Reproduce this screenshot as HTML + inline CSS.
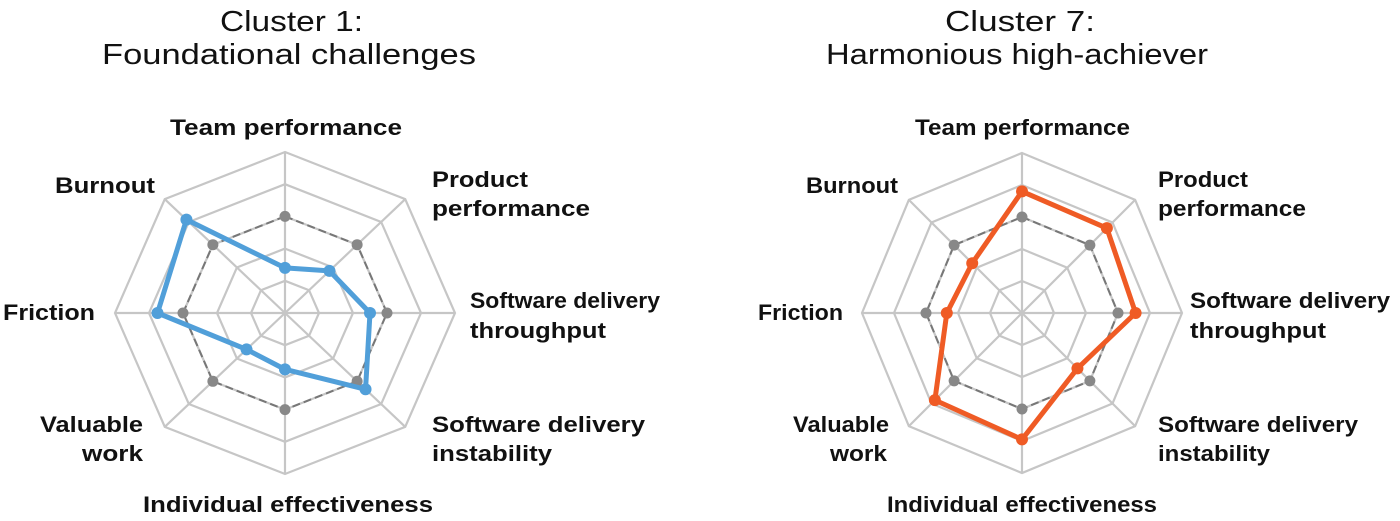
<!DOCTYPE html>
<html><head><meta charset="utf-8"><style>
html,body{margin:0;padding:0;background:#fff;}
svg{display:block;}
text{font-family:"Liberation Sans",sans-serif;fill:#111;}
.t{font-size:29px;}
.l{font-size:22px;font-weight:bold;}
</style></head><body>
<svg id="s" width="1400" height="521" viewBox="0 0 1400 521" xmlns="http://www.w3.org/2000/svg">
<g id="g"></g>
<text class="t" x="220" y="31" textLength="143" lengthAdjust="spacingAndGlyphs">Cluster 1:</text>
<text class="t" x="102" y="64" textLength="374" lengthAdjust="spacingAndGlyphs">Foundational challenges</text>
<text class="t" x="945" y="31" textLength="150" lengthAdjust="spacingAndGlyphs">Cluster 7:</text>
<text class="t" x="826" y="64" textLength="382" lengthAdjust="spacingAndGlyphs">Harmonious high-achiever</text>

<text class="l" x="170" y="135" textLength="232" lengthAdjust="spacingAndGlyphs">Team performance</text>
<text class="l" x="55" y="193" textLength="100" lengthAdjust="spacingAndGlyphs">Burnout</text>
<text class="l" x="432" y="187" textLength="96" lengthAdjust="spacingAndGlyphs">Product</text>
<text class="l" x="432" y="216" textLength="158" lengthAdjust="spacingAndGlyphs">performance</text>
<text class="l" x="470" y="308" textLength="190" lengthAdjust="spacingAndGlyphs">Software delivery</text>
<text class="l" x="470" y="338" textLength="136" lengthAdjust="spacingAndGlyphs">throughput</text>
<text class="l" x="3" y="320" textLength="92" lengthAdjust="spacingAndGlyphs">Friction</text>
<text class="l" x="40" y="432" textLength="103" lengthAdjust="spacingAndGlyphs">Valuable</text>
<text class="l" x="82" y="461" textLength="61" lengthAdjust="spacingAndGlyphs">work</text>
<text class="l" x="432" y="432" textLength="213" lengthAdjust="spacingAndGlyphs">Software delivery</text>
<text class="l" x="432" y="461" textLength="120" lengthAdjust="spacingAndGlyphs">instability</text>
<text class="l" x="143" y="512" textLength="290" lengthAdjust="spacingAndGlyphs">Individual effectiveness</text>

<text class="l" x="915" y="135" textLength="215" lengthAdjust="spacingAndGlyphs">Team performance</text>
<text class="l" x="806" y="193" textLength="92" lengthAdjust="spacingAndGlyphs">Burnout</text>
<text class="l" x="1158" y="187" textLength="90" lengthAdjust="spacingAndGlyphs">Product</text>
<text class="l" x="1158" y="216" textLength="148" lengthAdjust="spacingAndGlyphs">performance</text>
<text class="l" x="1190" y="308" textLength="200" lengthAdjust="spacingAndGlyphs">Software delivery</text>
<text class="l" x="1190" y="338" textLength="136" lengthAdjust="spacingAndGlyphs">throughput</text>
<text class="l" x="758" y="320" textLength="85" lengthAdjust="spacingAndGlyphs">Friction</text>
<text class="l" x="793" y="432" textLength="96" lengthAdjust="spacingAndGlyphs">Valuable</text>
<text class="l" x="830" y="461" textLength="57" lengthAdjust="spacingAndGlyphs">work</text>
<text class="l" x="1158" y="432" textLength="200" lengthAdjust="spacingAndGlyphs">Software delivery</text>
<text class="l" x="1158" y="461" textLength="112" lengthAdjust="spacingAndGlyphs">instability</text>
<text class="l" x="887" y="512" textLength="270" lengthAdjust="spacingAndGlyphs">Individual effectiveness</text>
</svg>
<script>
(function(){
var NS="http://www.w3.org/2000/svg",g=document.getElementById("g");
function el(n,a){var e=document.createElementNS(NS,n);for(var k in a)e.setAttribute(k,a[k]);g.appendChild(e);return e;}
function pt(cx,cy,rx,ry,i,v){var a=-Math.PI/2+i*Math.PI/4;return [cx+Math.cos(a)*rx*v,cy+Math.sin(a)*ry*v];}
function chart(cx,cy,rx,ry,vals,col){
  for(var r=1;r<=5;r++){var p=[];for(var i=0;i<8;i++)p.push(pt(cx,cy,rx,ry,i,r/5).join(","));
    el("polygon",{points:p.join(" "),fill:"none",stroke:"#c6c6c6","stroke-width":2.2});}
  for(var i=0;i<8;i++){var q=pt(cx,cy,rx,ry,i,1);el("line",{x1:cx,y1:cy,x2:q[0],y2:q[1],stroke:"#c6c6c6","stroke-width":2.2});}
  var p=[];for(var i=0;i<8;i++)p.push(pt(cx,cy,rx,ry,i,0.6));
  el("polygon",{points:p.map(function(x){return x.join(",")}).join(" "),fill:"none",stroke:"#777","stroke-width":2,"stroke-dasharray":"8 4"});
  p.forEach(function(x){el("circle",{cx:x[0],cy:x[1],r:5.5,fill:"#888"});});
  var d=[];for(var i=0;i<8;i++)d.push(pt(cx,cy,rx,ry,i,vals[i]));
  el("polygon",{points:d.map(function(x){return x.join(",")}).join(" "),fill:"none",stroke:col,"stroke-width":5,"stroke-linejoin":"round"});
  d.forEach(function(x){el("circle",{cx:x[0],cy:x[1],r:6,fill:col});});
}
chart(285,313,170,161,[0.28,0.37,0.5,0.67,0.35,0.32,0.75,0.82],"#519fd9");
chart(1022,313,160,160,[0.76,0.75,0.71,0.49,0.79,0.77,0.47,0.44],"#ef5b25");
})();
</script>
</body></html>
